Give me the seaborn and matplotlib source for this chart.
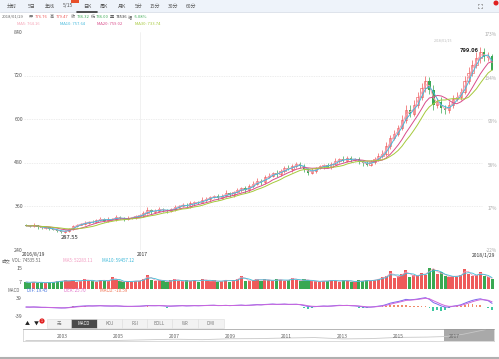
import numpy as np
import pandas as pd
import matplotlib
matplotlib.use('Agg')
import matplotlib.pyplot as plt
from matplotlib.patches import Rectangle, Circle
import seaborn as sns

sns.set_theme(style='white')
plt.rcParams['font.family'] = ['Noto Sans CJK SC', 'DejaVu Sans']

W, H = 499, 359

# price data, one candle for about every three trading days (2016/8/19 - 2018/1/29)
close = [307, 305, 309, 303, 300, 302, 298, 296, 293, 290,
         292, 298, 305, 310, 312, 315, 318, 316, 322, 326,
         321, 324, 325, 331, 327, 324, 328, 330, 333, 335,
         342, 350, 345, 348, 353, 350, 346, 352, 358, 362,
         365, 360, 368, 372, 370, 377, 381, 385, 388, 383,
         390, 396, 392, 400, 405, 410, 404, 415, 423, 430,
         426, 440, 445, 452, 448, 458, 466, 462, 471, 477,
         472, 462, 453, 458, 465, 470, 474, 469, 478, 485,
         490, 486, 493, 488, 490, 484, 479, 475, 482, 490,
         498, 505, 526, 548, 560, 575, 598, 625, 615, 640,
         660, 685, 705, 680, 640, 648, 630, 625, 638, 655,
         662, 675, 705, 728, 750, 768, 785, 770, 775, 736.32]
first_open = 309
wick_up = [3, 2, 4, 1, 2, 3, 2, 1, 3, 2, 4, 3, 5, 2, 3, 6, 2, 4, 3, 5,
           2, 6, 3, 4, 2, 3, 5, 2, 3, 4, 6, 8, 3, 4, 5, 2, 3, 4, 6, 3,
           5, 4, 6, 3, 4, 8, 5, 4, 3, 7, 4, 9, 5, 3, 6, 4, 5, 8, 6, 7,
           5, 6, 8, 4, 7, 6, 5, 9, 6, 5, 4, 6, 5, 7, 3, 5, 4, 6, 5, 8,
           4, 9, 5, 6, 4, 5, 3, 6, 7, 5, 8, 10, 12, 9, 11, 10, 14, 13, 15, 12,
           16, 14, 14, 12, 15, 10, 13, 9, 11, 12, 14, 10, 13, 15, 12, 16, 14.06, 12, 10, 4.47]
wick_dn = [2, 3, 2, 4, 3, 2, 3, 2, 3, 2.45, 3, 2, 4, 3, 2, 3, 4, 2, 3, 2,
           5, 3, 2, 4, 3, 5, 2, 3, 4, 2, 3, 2, 6, 3, 4, 5, 3, 2, 4, 3,
           5, 3, 4, 6, 3, 2, 4, 5, 3, 6, 4, 3, 5, 7, 3, 4, 8, 5, 3, 4,
           6, 4, 3, 5, 7, 4, 5, 3, 6, 4, 7, 8, 6, 4, 5, 3, 6, 4, 5, 3,
           6, 4, 5, 7, 4, 6, 8, 5, 4, 6, 5, 4, 6, 8, 5, 7, 6, 9, 10, 7,
           8, 6, 10, 12, 14, 9, 12, 10, 7, 8, 6, 9, 7, 8, 10, 9, 12, 11, 9, 0.32]
# volume in 10k lots
volume = [5.2, 4.8, 5.5, 4.6, 5.0, 4.4, 5.3, 4.9, 6.1, 5.8,
          6.5, 5.9, 6.8, 5.6, 6.2, 7.4, 5.8, 6.3, 5.5, 7.0,
          6.1, 5.7, 9.0, 6.4, 5.8, 5.2, 6.0, 5.5, 6.3, 5.9,
          7.8, 10.2, 6.9, 6.2, 7.1, 5.8, 5.4, 6.6, 7.3, 6.0,
          5.7, 6.4, 5.9, 6.8, 5.5, 7.6, 6.2, 5.8, 6.5, 5.3,
          6.1, 7.0, 5.6, 6.4, 7.8, 10.1, 6.3, 5.9, 6.9, 7.5,
          6.2, 7.2, 6.6, 5.8, 7.4, 6.8, 6.0, 7.1, 8.4, 6.5,
          6.0, 7.3, 6.4, 5.7, 6.1, 5.4, 6.3, 5.9, 6.7, 6.2,
          5.5, 6.9, 6.0, 5.6, 5.2, 6.4, 5.8, 6.6, 6.1, 7.0,
          7.6, 8.8, 9.5, 13.8, 8.2, 9.6, 11.5, 14.2, 9.0, 10.4,
          9.8, 12.0, 10.5, 15.6, 15.0, 11.2, 12.4, 9.6, 8.8, 10.1,
          9.2, 10.6, 15.2, 11.0, 9.5, 10.8, 12.5, 9.4, 8.7, 7.45]

price_ticks = [840, 720, 600, 480, 360, 240]
pct_labels = ['173%', '134%', '95%', '56%', '17%', '-22%']
tabs = ['分时', '5日', '年线', '5/15', '日K', '周K', '月K', '5分', '15分', '30分', '60分']
tab_x = [12, 32, 50, 68, 87, 104, 122, 139, 155, 173, 191]
buttons = ['无', 'MACD', 'KDJ', 'RSI', 'BOLL', 'WR', 'DMI']
button_edges = [47, 71, 97, 122, 147, 172, 198, 224]
nav_years = [2003, 2005, 2007, 2009, 2011, 2013, 2015, 2017]
nav_hist_year = [2001.7, 2003, 2005, 2007, 2008, 2009, 2010, 2011, 2012, 2013, 2014, 2015, 2016, 2016.7, 2017.3, 2018.1]
nav_hist_price = [30, 28, 40, 120, 90, 150, 160, 200, 230, 140, 160, 240, 260, 300, 450, 760]

RED, GREEN = '#ee5a5a', '#39a852'
MA_COLORS = {'MA5': '#f5a3b5', 'MA10': '#45b9dc', 'MA20': '#d94c8a', 'MA30': '#a6c93c'}

df = pd.DataFrame({'close': close, 'wick_up': wick_up, 'wick_dn': wick_dn, 'volume': volume})
df['idx'] = np.arange(len(df))
df['open'] = df['close'].shift(1).fillna(first_open)
df['high'] = df[['open', 'close']].max(axis=1) + df['wick_up']
df['low'] = df[['open', 'close']].min(axis=1) - df['wick_dn']
df['up'] = df['close'] >= df['open']
for name, win in [('MA5', 2), ('MA10', 3), ('MA20', 7), ('MA30', 10)]:
    df[name] = df['close'].rolling(win, min_periods=1).mean()
df['VMA5'] = df['volume'].rolling(2, min_periods=1).mean()
df['VMA10'] = df['volume'].rolling(3, min_periods=1).mean()
ema_fast = df['close'].ewm(span=4, adjust=False).mean()
ema_slow = df['close'].ewm(span=9, adjust=False).mean()
df['DIF'] = ema_fast - ema_slow
df['DEA'] = df['DIF'].ewm(span=3, adjust=False).mean()
df['HIST'] = 2 * (df['DIF'] - df['DEA'])


def rect(x0, y0, x1, y1):
    return [x0 / W, 1 - y1 / H, (x1 - x0) / W, (y1 - y0) / H]


def ftext(x, y, s, size=4, color='#555555', ha='left', **kw):
    fig.text(x / W, 1 - y / H, s, fontsize=size, color=color, ha=ha, va='center', **kw)


fig = plt.figure(figsize=(W / 100, H / 100), dpi=100)
fig.patch.set_facecolor('white')

# background layer for boxes drawn in pixel coords
bg = fig.add_axes([0, 0, 1, 1])
bg.set_xlim(0, W)
bg.set_ylim(H, 0)
bg.axis('off')
bg.add_patch(Rectangle((0, 0), W, 12, facecolor='#eef3fa', edgecolor='none'))
bg.plot([0, W], [12, 12], color='#d8dee8', lw=0.6)
bg.plot([77, 97], [11.5, 11.5], color='#333333', lw=1.2)
bg.add_patch(Rectangle((71, 0), 8, 3, facecolor='#e8502a', edgecolor='none'))
bg.add_patch(Circle((496, 3), 2.5, facecolor='#e02020', edgecolor='none'))
bg.plot([0, W], [357.5, 357.5], color='#b0b0b0', lw=1.5)
# full-screen icon, drawn as four corner marks
for sx, sy in [(-1, -1), (1, -1), (-1, 1), (1, 1)]:
    cx, cy = 480 + 2.2 * sx, 6 + 2.2 * sy
    bg.plot([cx, cx - 1.3 * sx], [cy, cy], color='#888888', lw=0.5)
    bg.plot([cx, cx], [cy, cy - 1.3 * sy], color='#888888', lw=0.5)

for t, x in zip(tabs, tab_x):
    ftext(x, 6, t, size=3.6, color='#555555', ha='center')

# info lines
info = [(2, '2018/01/29', '#666666'), (29, '开', '#666666'), (35, '776.76', RED),
        (50, '高', '#666666'), (56, '779.47', RED), (71, '收', '#666666'), (77, '736.32', GREEN),
        (91, '低', '#666666'), (96, '736.00', GREEN), (110, '量', '#666666'), (116, '74536', '#333333'),
        (128, '幅', '#666666'), (134, '-5.08%', GREEN)]
for x, s, c in info:
    ftext(x, 17, s, size=3.0, color=c)
ma_text = [(17, 'MA5: 764.16'), (60, 'MA10: 757.64'), (97, 'MA20: 759.02'), (135, 'MA30: 733.74')]
for (x, s), c in zip(ma_text, MA_COLORS.values()):
    ftext(x, 24, s, size=3.0, color=c)

# main candlestick panel
ax = fig.add_axes(rect(24, 32, 496, 250))
ax.set_xlim(-0.5, 120)
ax.set_ylim(240, 840)
ax.axis('off')
for t in price_ticks[1:-1]:
    ax.axhline(t, xmax=0.97, color='#e6e6e6', lw=0.5, ls=(0, (2, 1.5)))
ax.axvline(29.1, color='#ececec', lw=0.5)
colors = np.where(df['up'], RED, GREEN)
ax.vlines(df['idx'], df['low'], df['high'], colors=colors, lw=0.5)
body_low = df[['open', 'close']].min(axis=1)
body_h = (df['close'] - df['open']).abs().clip(lower=0.8)
up = df[df['up']]
dn = df[~df['up']]
ax.bar(up['idx'], body_h[df['up']], bottom=body_low[df['up']], width=0.62,
       facecolor='white', edgecolor=RED, linewidth=0.45)
ax.bar(dn['idx'], body_h[~df['up']], bottom=body_low[~df['up']], width=0.62,
       color=GREEN, linewidth=0)
ma_long = df.melt(id_vars='idx', value_vars=list(MA_COLORS), var_name='ma', value_name='price')
sns.lineplot(data=ma_long, x='idx', y='price', hue='ma', palette=MA_COLORS,
             linewidth=0.7, legend=False, ax=ax)
ax.set_xlabel('')
ax.set_ylabel('')
ax.axis('off')
for t in price_ticks:
    ax.annotate(str(t), xy=(23 / W, t), xycoords=('figure fraction', 'data'),
                ha='right', va='center', fontsize=3.8, color='#555555', annotation_clip=False)
for t, lbl in zip(price_ticks, pct_labels):
    ax.annotate(lbl, xy=(497 / W, t + (6 if t == 240 else 0)), xycoords=('figure fraction', 'data'),
                ha='right', va='top', fontsize=3.4, color='#aaaaaa', annotation_clip=False)
ax.annotate('799.06', xy=(116, 799.06), xytext=(-1, -1), textcoords='offset points',
            ha='right', va='top', fontsize=4.2, color='#222222', fontweight='bold')
ftext(452, 41, '2018/01/15', size=2.6, color='#bbbbbb', ha='right')
ax.annotate('287.55', xy=(9, 287.55), xytext=(0, -1.5), textcoords='offset points',
            ha='left', va='top', fontsize=4.2, color='#222222')

ftext(22, 254.5, '2016/8/19', size=3.6, color='#333333')
ftext(137, 254.5, '2017', size=3.6, color='#333333')
ftext(495, 255, '2018/1/29', size=3.6, color='#333333', ha='right')

# volume panel
axv = fig.add_axes(rect(24, 267, 496, 289))
axv.set_xlim(-0.5, 120)
axv.set_ylim(0, 16.5)
axv.bar(df['idx'], df['volume'], width=0.8, color=colors, linewidth=0)
vma = df.melt(id_vars='idx', value_vars=['VMA5', 'VMA10'], var_name='k', value_name='v')
sns.lineplot(data=vma, x='idx', y='v', hue='k', palette={'VMA5': '#f2a0c0', 'VMA10': '#40c0d8'},
             linewidth=0.6, legend=False, ax=axv)
axv.axis('off')
ftext(2, 261, '成交', size=3.2, color='#666666')
ftext(12, 261, 'VOL: 74535.51', size=3.2, color='#666666')
ftext(63, 261, 'MA5: 52283.11', size=3.2, color='#f29ac0')
ftext(102, 261, 'MA10: 59457.12', size=3.2, color='#3cb8d8')
ftext(22, 268, '15', size=3.8, color='#555555', ha='right')
ftext(22, 283, '7', size=3.8, color='#555555', ha='right')

# MACD panel
axm = fig.add_axes(rect(24, 292, 496, 320))
axm.set_xlim(-0.5, 120)
axm.set_ylim(-56, 65)
axm.bar(df['idx'], df['HIST'], width=0.45,
        color=np.where(df['HIST'] >= 0, '#f08a6a', '#3cc8a0'), linewidth=0)
macd_long = df.melt(id_vars='idx', value_vars=['DIF', 'DEA'], var_name='k', value_name='v')
sns.lineplot(data=macd_long, x='idx', y='v', hue='k', palette={'DIF': '#7b68ee', 'DEA': '#cc66dd'},
             linewidth=0.7, legend=False, ax=axm)
axm.axis('off')
ftext(7, 290, 'MACD', size=3.2, color='#666666')
ftext(27, 290, 'DIF: 19.45', size=3.2, color='#4a78e0')
ftext(64, 290, 'DEA: 25.70', size=3.2, color='#e070c8')
ftext(100, 290, 'MACD: -10.59', size=3.2, color='#f07050')
ftext(22, 298, '39', size=3.8, color='#555555', ha='right')
ftext(22, 316, '-39', size=3.8, color='#555555', ha='right')

# indicator buttons
ftext(27, 324, '▲', size=3.6, color='#222222', ha='center')
ftext(36, 324, '▼', size=3.6, color='#222222', ha='center')
bg.add_patch(Circle((42, 321), 2.6, facecolor='#e02020', edgecolor='none'))
ftext(42, 321, '1', size=2.6, color='white', ha='center')
for i, b in enumerate(buttons):
    x0, x1 = button_edges[i], button_edges[i + 1]
    sel = b == 'MACD'
    bg.add_patch(Rectangle((x0, 319), x1 - x0, 9, facecolor='#4a4a4a' if sel else '#f2f2f2',
                           edgecolor='#dddddd', lw=0.4))
    ftext((x0 + x1) / 2, 323.5, b, size=3.2, color='white' if sel else '#777777', ha='center')

# navigator
axn = fig.add_axes(rect(23, 329, 494, 341))
axn.set_xlim(2001.6, 2018.4)
axn.set_ylim(0, 800)
sns.lineplot(x=nav_hist_year, y=nav_hist_price, color='#c8c8c8', linewidth=0.6, ax=axn)
axn.axvspan(2016.63, 2018.4, color='#8c8c8c', alpha=0.75, lw=0)
for spine in axn.spines.values():
    spine.set_color('#cccccc')
    spine.set_linewidth(0.5)
axn.spines['top'].set_color('#999999')
axn.set_xticks([])
axn.set_yticks([])
axn.set_xlabel('')
for yr in nav_years:
    axn.text(yr, 280, str(yr), fontsize=3.6, color='#666666', ha='center', va='center')

fig.savefig('out.png', dpi=100)
